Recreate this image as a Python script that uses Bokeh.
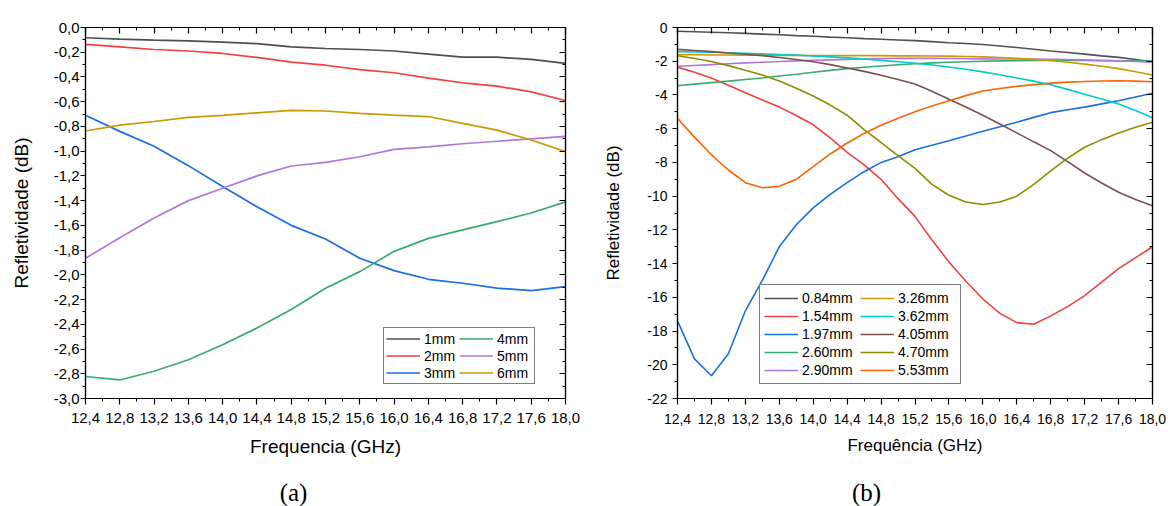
from bokeh.plotting import figure
from bokeh.models import Range1d, LinearAxis, FixedTicker, CustomJSTickFormatter, Legend, LegendItem, Label
from bokeh.layouts import row, column
from bokeh.embed import file_html
from bokeh.resources import INLINE

# ---------------- data: panel (a) ----------------
freq_a = [12.4, 12.8, 13.2, 13.6, 14.0, 14.4, 14.8, 15.2, 15.6, 16.0, 16.4, 16.8, 17.2, 17.6, 18.0]
names_a = ["1mm", "2mm", "3mm", "4mm", "5mm", "6mm"]
a_1mm = [-0.083, -0.094, -0.102, -0.108, -0.118, -0.130, -0.156, -0.170, -0.178, -0.190, -0.215, -0.240, -0.240, -0.258, -0.290]
a_2mm = [-0.137, -0.156, -0.178, -0.190, -0.210, -0.242, -0.280, -0.305, -0.340, -0.366, -0.410, -0.447, -0.474, -0.520, -0.590]
a_3mm = [-0.710, -0.840, -0.960, -1.117, -1.286, -1.450, -1.600, -1.710, -1.866, -1.966, -2.036, -2.068, -2.108, -2.127, -2.095]
a_4mm = [-2.822, -2.850, -2.780, -2.687, -2.566, -2.430, -2.280, -2.108, -1.974, -1.810, -1.705, -1.637, -1.570, -1.500, -1.410]
a_5mm = [-1.866, -1.700, -1.540, -1.400, -1.300, -1.200, -1.120, -1.090, -1.045, -0.986, -0.965, -0.940, -0.920, -0.900, -0.880]
a_6mm = [-0.837, -0.790, -0.760, -0.727, -0.710, -0.690, -0.670, -0.675, -0.695, -0.708, -0.720, -0.775, -0.830, -0.910, -1.004]
series_a = [a_1mm, a_2mm, a_3mm, a_4mm, a_5mm, a_6mm]
colors_a = ["#4f4f4f", "#F14040", "#1A6FDF", "#37AD6B", "#B177DE", "#CC9900"]

# ---------------- data: panel (b) ----------------
freq_b = [12.4, 12.6, 12.8, 13.0, 13.2, 13.4, 13.6, 13.8, 14.0, 14.2, 14.4, 14.6, 14.8, 15.0, 15.2,
          15.4, 15.6, 15.8, 16.0, 16.2, 16.4, 16.6, 16.8, 17.0, 17.2, 17.4, 17.6, 17.8, 18.0]
names_b = ["0.84mm", "1.54mm", "1.97mm", "2.60mm", "2.90mm", "3.26mm", "3.62mm", "4.05mm", "4.70mm", "5.53mm"]
b_084 = [-0.22, -0.25, -0.28, -0.31, -0.35, -0.39, -0.43, -0.48, -0.52, -0.57, -0.61, -0.66, -0.70, -0.74, -0.78,
         -0.84, -0.90, -0.95, -1.01, -1.10, -1.19, -1.29, -1.39, -1.48, -1.58, -1.68, -1.77, -1.90, -2.03]
b_154 = [-2.35, -2.65, -3.00, -3.42, -3.87, -4.30, -4.72, -5.22, -5.77, -6.55, -7.40, -8.15, -9.00, -10.15, -11.20,
         -12.60, -13.90, -15.05, -16.10, -16.95, -17.50, -17.60, -17.10, -16.55, -15.90, -15.10, -14.30, -13.65, -13.00]
b_197 = [-17.40, -19.65, -20.65, -19.35, -16.80, -15.00, -13.00, -11.70, -10.70, -9.90, -9.20, -8.55, -8.00, -7.66, -7.25,
         -6.98, -6.72, -6.43, -6.15, -5.88, -5.62, -5.33, -5.05, -4.88, -4.72, -4.53, -4.34, -4.12, -3.90]
b_260 = [-3.45, -3.36, -3.27, -3.18, -3.08, -2.99, -2.88, -2.77, -2.65, -2.54, -2.44, -2.36, -2.28, -2.21, -2.15,
         -2.10, -2.06, -2.03, -2.00, -1.98, -1.97, -1.96, -1.96, -1.96, -1.96, -1.97, -1.97, -1.98, -1.99]
b_290 = [-2.30, -2.25, -2.20, -2.15, -2.10, -2.06, -2.02, -1.98, -1.95, -1.92, -1.89, -1.86, -1.84, -1.83, -1.82,
         -1.83, -1.84, -1.85, -1.86, -1.87, -1.87, -1.87, -1.88, -1.90, -1.92, -1.95, -1.98, -2.02, -2.06]
b_326 = [-1.62, -1.62, -1.63, -1.63, -1.64, -1.64, -1.65, -1.65, -1.66, -1.66, -1.67, -1.67, -1.67, -1.68, -1.68,
         -1.69, -1.70, -1.72, -1.74, -1.78, -1.83, -1.89, -1.96, -2.06, -2.17, -2.30, -2.44, -2.62, -2.82]
b_362 = [-1.43, -1.45, -1.47, -1.50, -1.53, -1.56, -1.60, -1.64, -1.69, -1.74, -1.80, -1.87, -1.95, -2.03, -2.12,
         -2.22, -2.34, -2.48, -2.63, -2.80, -2.99, -3.18, -3.39, -3.67, -3.96, -4.24, -4.53, -4.92, -5.35]
b_405 = [-1.30, -1.36, -1.43, -1.51, -1.59, -1.67, -1.78, -1.90, -2.03, -2.20, -2.40, -2.60, -2.83, -3.08, -3.35,
         -3.78, -4.25, -4.72, -5.20, -5.72, -6.25, -6.78, -7.30, -7.95, -8.63, -9.22, -9.77, -10.20, -10.57]
b_470 = [-1.68, -1.84, -2.02, -2.26, -2.53, -2.82, -3.17, -3.60, -4.06, -4.60, -5.20, -6.05, -6.82, -7.60, -8.35,
         -9.30, -9.95, -10.35, -10.50, -10.35, -10.00, -9.30, -8.50, -7.75, -7.10, -6.65, -6.25, -5.92, -5.62]
b_553 = [-5.39, -6.50, -7.55, -8.45, -9.20, -9.50, -9.42, -9.00, -8.25, -7.50, -6.85, -6.28, -5.80, -5.38, -5.00,
         -4.65, -4.34, -4.04, -3.77, -3.62, -3.49, -3.39, -3.30, -3.24, -3.20, -3.17, -3.16, -3.18, -3.22]
series_b = [b_084, b_154, b_197, b_260, b_290, b_326, b_362, b_405, b_470, b_553]
colors_b = ["#515151", "#F14040", "#1A6FDF", "#37AD6B", "#B177DE", "#CC9900", "#00CBCC", "#7D4E4E", "#8E8C00", "#FB6501"]

# ---------------- ticks ----------------
x_major = [12.4, 12.8, 13.2, 13.6, 14.0, 14.4, 14.8, 15.2, 15.6, 16.0, 16.4, 16.8, 17.2, 17.6, 18.0]
x_minor = [12.6, 13.0, 13.4, 13.8, 14.2, 14.6, 15.0, 15.4, 15.8, 16.2, 16.6, 17.0, 17.4, 17.8]
ya_major = [-3.0, -2.8, -2.6, -2.4, -2.2, -2.0, -1.8, -1.6, -1.4, -1.2, -1.0, -0.8, -0.6, -0.4, -0.2, 0.0]
ya_minor = [-2.9, -2.7, -2.5, -2.3, -2.1, -1.9, -1.7, -1.5, -1.3, -1.1, -0.9, -0.7, -0.5, -0.3, -0.1]
yb_major = [-22, -20, -18, -16, -14, -12, -10, -8, -6, -4, -2, 0]
yb_minor = [-21, -19, -17, -15, -13, -11, -9, -7, -5, -3, -1]
panel_tags = ["(a)", "(b)"]

FONT = "Liberation Sans"
comma1 = CustomJSTickFormatter(code="return tick.toFixed(1).replace('.', ',');")
comma1y = CustomJSTickFormatter(code="return tick.toFixed(1).replace('.', ',');")
int0 = CustomJSTickFormatter(code="return tick.toFixed(0);")


def style_axis(ax, ticker, fmt, font_size, tick_out, standoff):
    ax.ticker = ticker
    ax.formatter = fmt
    ax.axis_line_color = "black"
    ax.axis_line_width = 1.2
    ax.major_tick_line_color = "black"
    ax.minor_tick_line_color = "black"
    ax.major_tick_line_width = 1.2
    ax.minor_tick_line_width = 1.0
    ax.major_tick_out = tick_out
    ax.major_tick_in = 0
    ax.minor_tick_out = 3
    ax.minor_tick_in = 0
    ax.major_label_text_font = FONT
    ax.major_label_text_font_size = font_size
    ax.major_label_text_color = "black"
    ax.major_label_standoff = standoff
    ax.axis_label_text_font = FONT
    ax.axis_label_text_font_style = "normal"
    ax.axis_label_text_color = "black"


def mirror_axis(p, ticker, side):
    ax = LinearAxis(ticker=ticker,
                    formatter=CustomJSTickFormatter(code="return '';"),
                    major_tick_in=6, major_tick_out=0, minor_tick_in=3, minor_tick_out=0,
                    major_label_text_font_size="0px", major_label_standoff=0,
                    axis_line_color="black", axis_line_width=1.2,
                    major_tick_line_color="black", minor_tick_line_color="black",
                    major_tick_line_width=1.2)
    p.add_layout(ax, side)


def make_fig(width, height, yr, borders):
    l, r, t, b = borders
    p = figure(width=width, height=height, x_range=Range1d(12.4, 18.0), y_range=yr,
               output_backend="svg", toolbar_location=None,
               min_border_left=l, min_border_right=r, min_border_top=t, min_border_bottom=b)
    p.xgrid.visible = False
    p.ygrid.visible = False
    p.outline_line_color = "black"
    p.outline_line_width = 1.2
    p.background_fill_color = "white"
    p.border_fill_color = "white"
    return p


# ---------------- panel (a) ----------------
pa = make_fig(590, 478, Range1d(-3.0, 0.0), (85, 25, 27, 80))
style_axis(pa.xaxis[0], FixedTicker(ticks=x_major, minor_ticks=x_minor), comma1, "15px", 6, 8)
style_axis(pa.yaxis[0], FixedTicker(ticks=ya_major, minor_ticks=ya_minor), comma1y, "15px", 5, 1)
pa.xaxis[0].axis_label = "Frequencia (GHz)"
pa.xaxis[0].axis_label_text_font_size = "19px"
pa.xaxis[0].axis_label_standoff = 10
pa.yaxis[0].axis_label = "Refletividade (dB)"
pa.yaxis[0].axis_label_text_font_size = "19px"
pa.yaxis[0].axis_label_standoff = 19
mirror_axis(pa, FixedTicker(ticks=x_major, minor_ticks=x_minor), "above")
mirror_axis(pa, FixedTicker(ticks=ya_major, minor_ticks=ya_minor), "right")

items_a = []
for name, vals, col in zip(names_a, series_a, colors_a):
    r = pa.line(freq_a, vals, line_color=col, line_width=1.7)
    items_a.append(LegendItem(label=name, renderers=[r]))
leg_a = Legend(items=items_a, location=(298, 14), ncols=2,
               border_line_color="black", border_line_width=1,
               background_fill_color="white", background_fill_alpha=1.0,
               label_text_font=FONT, label_text_font_size="14px", label_text_color="black",
               glyph_width=34, glyph_height=17, label_height=17, label_width=35,
               label_standoff=4, padding=2, spacing=0, margin=0)
pa.add_layout(leg_a)

# ---------------- panel (b) ----------------
pb = make_fig(578, 478, Range1d(-22.0, 0.0), (87, 16, 14, 79))
style_axis(pb.xaxis[0], FixedTicker(ticks=x_major, minor_ticks=x_minor), comma1, "14px", 6, 9)
style_axis(pb.yaxis[0], FixedTicker(ticks=yb_major, minor_ticks=yb_minor), int0, "14px", 5, 5)
pb.xaxis[0].axis_label = "Frequência (GHz)"
pb.xaxis[0].axis_label_text_font_size = "17px"
pb.xaxis[0].axis_label_standoff = 9
pb.yaxis[0].axis_label = "Refletividade (dB)"
pb.yaxis[0].axis_label_text_font_size = "17px"
pb.yaxis[0].axis_label_standoff = 21
mirror_axis(pb, FixedTicker(ticks=x_major, minor_ticks=x_minor), "above")
mirror_axis(pb, FixedTicker(ticks=yb_major, minor_ticks=yb_minor), "right")

items_b = []
for name, vals, col in zip(names_b, series_b, colors_b):
    r = pb.line(freq_b, vals, line_color=col, line_width=1.6)
    items_b.append(LegendItem(label=name, renderers=[r]))
leg_b = Legend(items=items_b, location=(82, 14), ncols=2,
               border_line_color="black", border_line_width=1,
               background_fill_color="white", background_fill_alpha=1.0,
               label_text_font=FONT, label_text_font_size="14px", label_text_color="black",
               glyph_width=34, glyph_height=18, label_height=18, label_width=58,
               label_standoff=4, padding=4, spacing=0, margin=0)
pb.add_layout(leg_b)

# ---------------- panel tags strip ----------------
pt = figure(width=1168, height=28, x_range=Range1d(0, 1168), y_range=Range1d(0, 28),
            output_backend="svg", toolbar_location=None, x_axis_type=None, y_axis_type=None,
            min_border=0)
pt.xgrid.visible = False
pt.ygrid.visible = False
pt.outline_line_color = None
pt.background_fill_color = "white"
pt.border_fill_color = "white"
for tag, xc in zip(panel_tags, [293, 866]):
    pt.add_layout(Label(x=xc, y=14, text=tag, text_font="Liberation Serif",
                        text_font_size="25px", text_align="center", text_baseline="middle",
                        text_color="black"))

layout = column(row(pa, pb), pt)
open("out.html", "w").write(file_html(layout, INLINE))
